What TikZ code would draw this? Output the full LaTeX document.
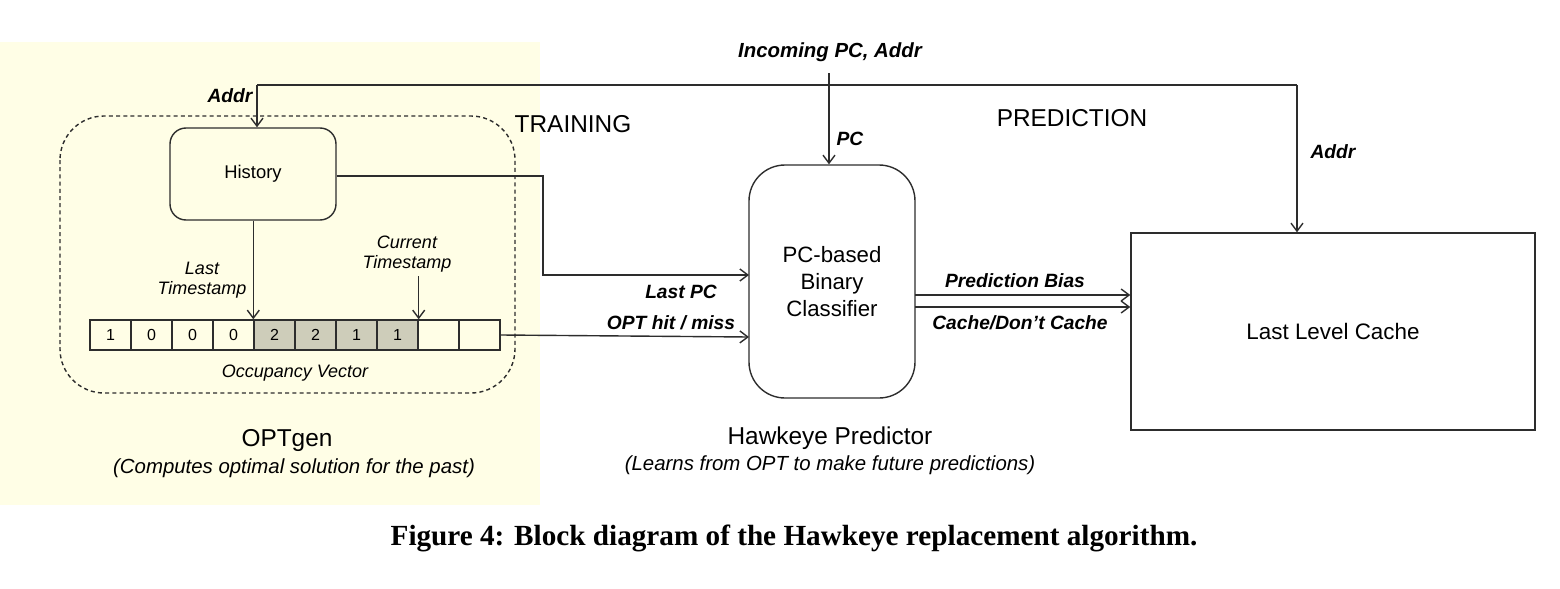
\documentclass[tikz,border=0pt]{standalone}
\usepackage{fontspec}
\setmainfont{Liberation Sans}
\newfontfamily\capfont{Liberation Serif}
\usetikzlibrary{arrows.meta,calc}
\definecolor{bgyellow}{RGB}{255,254,230}
\definecolor{cellgray}{RGB}{206,205,186}
\definecolor{ln}{RGB}{45,45,45}
\begin{document}
\begin{tikzpicture}[x=0.5pt,y=-0.5pt,
  every node/.style={text=black},
  arr/.style={draw=ln,line width=0.7pt,-{Straight Barb[length=4pt,width=6pt,line width=0.7pt]}},
  ln/.style={draw=ln,line width=0.7pt},
  lbl/.style={font=\fontsize{9.6}{11}\selectfont\bfseries\itshape,inner sep=0pt},
  ilbl/.style={font=\fontsize{9}{10.3}\selectfont\itshape,align=center,inner sep=0pt},
  cell/.style={draw=ln,line width=0.7pt,minimum width=20.5pt,minimum height=15pt,inner sep=0pt,font=\fontsize{8}{9}\selectfont},
  gcell/.style={cell,fill=cellgray},
  title/.style={font=\fontsize{12.2}{14}\selectfont,inner sep=0pt},
  sub/.style={font=\fontsize{10.2}{12}\selectfont\itshape,inner sep=0pt}
]
\useasboundingbox (0,0) rectangle (1560,589);
\fill[bgyellow] (0,42) rectangle (540,505);
% dashed OPTgen frame
\draw[ln,dash pattern=on 2pt off 1.6pt,rounded corners=22pt] (60,116) rectangle (515,393);
% History
\node[draw=ln,line width=0.7pt,rounded corners=8pt,minimum width=83pt,minimum height=46pt,inner sep=0pt,font=\fontsize{9.2}{11}\selectfont] (hist) at (253,174) {History};
% classifier
\node[draw=ln,line width=0.7pt,rounded corners=18pt,minimum width=83pt,minimum height=116.5pt,align=center,inner sep=0pt,font=\fontsize{11.1}{13.3}\selectfont] (clf) at (832,281.5) {PC-based\\Binary\\Classifier};
% LLC
\node[draw=ln,line width=0.7pt,minimum width=202pt,minimum height=98.5pt,inner sep=0pt,font=\fontsize{11.2}{13}\selectfont] (llc) at (1333,331.5) {Last Level Cache};
% occupancy vector
\node[cell]  (c1)  at (110.5,335) {1};
\node[cell]  (c2)  at (151.5,335) {0};
\node[cell]  (c3)  at (192.5,335) {0};
\node[cell]  (c4)  at (233.5,335) {0};
\node[gcell] (c5)  at (274.5,335) {2};
\node[gcell] (c6)  at (315.5,335) {2};
\node[gcell] (c7)  at (356.5,335) {1};
\node[gcell] (c8)  at (397.5,335) {1};
\node[cell]  (c9)  at (438.5,335) {};
\node[cell]  (c10) at (479.5,335) {};
\node[ilbl] (occ) at (295,373) {Occupancy Vector};
% labels
\node[lbl] (laddr) at (230,96) {Addr};
\node[lbl,font=\fontsize{10.2}{12}\selectfont\bfseries\itshape] (inc) at (830,52) {Incoming PC, Addr};
\node[lbl] (lpc) at (850,139) {PC};
\node[lbl] (raddr) at (1333,152) {Addr};
\node[font=\fontsize{12.2}{14}\selectfont,inner sep=0pt] (train) at (573,124) {TRAINING};
\node[font=\fontsize{12.2}{14}\selectfont,inner sep=0pt] (pred) at (1072,118) {PREDICTION};
\node[lbl] (lastpc) at (681,292) {Last PC};
\node[lbl] (opthm) at (671,323) {OPT hit / miss};
\node[lbl] (pbias) at (1015,281) {Prediction Bias};
\node[lbl] (cdc) at (1020,323) {Cache/Don't Cache};
\node[ilbl] (lts) at (202,280) {Last\\Timestamp};
\node[ilbl] (cts) at (407,254) {Current\\Timestamp};
\node[title] (optgen) at (287,441) {OPTgen};
\node[sub] (optsub) at (294,468) {(Computes optimal solution for the past)};
\node[title] (hawk) at (830,438) {Hawkeye Predictor};
\node[sub] (hawksub) at (830,465) {(Learns from OPT to make future predictions)};
\node[font=\fontsize{14.6}{17}\selectfont\capfont\bfseries,inner sep=0pt] (cap) at (794,538) {Figure 4: Block diagram of the Hawkeye replacement algorithm.};
% connectors
\coordinate (topR) at (1297,85);
\coordinate (topL) at (257,85);
\draw[ln] (topR) -- (topL);
\draw[arr] (topL) -- (topL |- hist.north);
\draw[arr] (topR) -- (topR |- llc.north);
\coordinate (incs) at (829,73);
\draw[arr] (incs) -- (incs |- clf.north);
\coordinate (hbend) at (543,176);
\coordinate (lpcin) at (749,275);
\draw[arr] (hist.east |- hbend) -- (hbend) |- (lpcin);
\draw[arr] (c5.north west |- hist.south) -- (c5.north west);
\coordinate (cts0) at (417,276);
\draw[arr] (c8.north east |- cts0) -- (c8.north east);
\coordinate (optin) at (749,337);
\draw[arr] (c10.east) -- (optin);
\coordinate (pb0) at (915,295);
\coordinate (cd0) at (915,307);
\draw[arr] (pb0) -- (pb0 -| llc.west);
\draw[arr] (cd0) -- (cd0 -| llc.west);
\end{tikzpicture}
\end{document}
